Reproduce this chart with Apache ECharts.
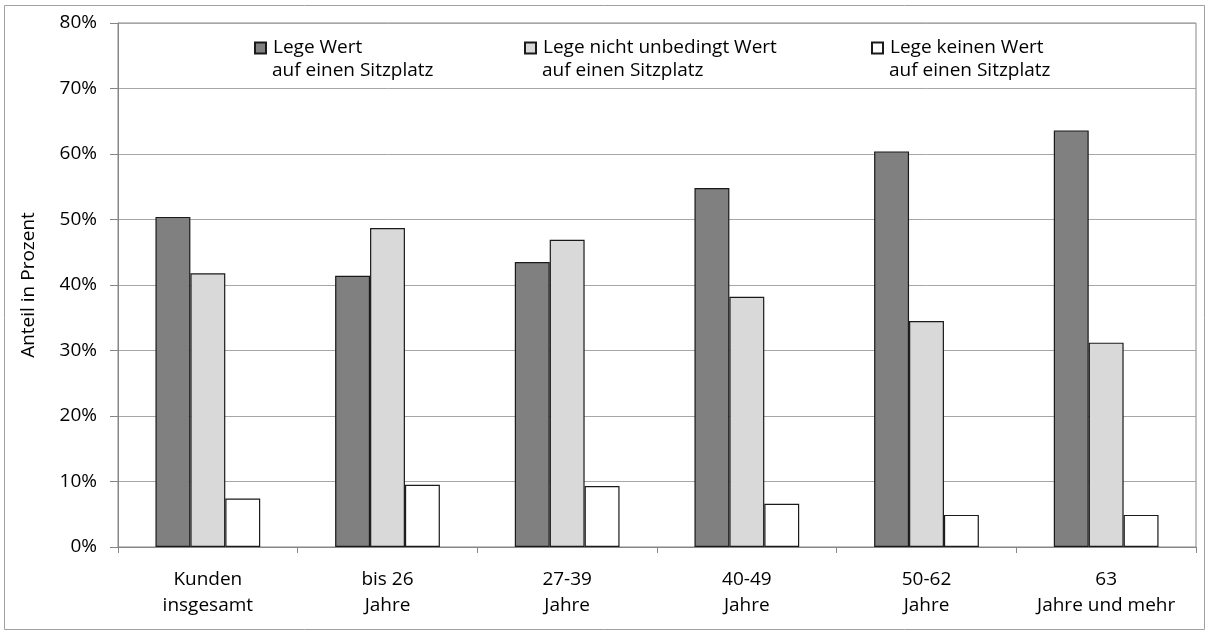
<!DOCTYPE html>
<html>
<head>
<meta charset="utf-8">
<script src="https://cdn.jsdelivr.net/npm/echarts@6/dist/echarts.min.js"></script>
<style>html,body{margin:0;padding:0;background:#fff;}#c{width:1209px;height:635px;}</style>
</head>
<body>
<div id="c"></div>
<script>
const categories = ['Kunden\ninsgesamt', 'bis 26\nJahre', '27-39\nJahre', '40-49\nJahre', '50-62\nJahre', '63\nJahre und mehr'];
const seriesNames = ['Lege Wert', 'Lege nicht unbedingt Wert', 'Lege keinen Wert'];
const legendSecondLine = 'auf einen Sitzplatz';
const wert = [50.4, 41.4, 43.5, 54.8, 60.4, 63.6];
const nichtUnbedingt = [41.8, 48.7, 46.9, 38.2, 34.5, 31.2];
const keinen = [7.4, 9.5, 9.3, 6.6, 4.9, 4.9];
const yTicks = [0, 10, 20, 30, 40, 50, 60, 70, 80];

const FONT = 'Open Sans';
const FS = 19;
const colors = ['#808080', '#d9d9d9', '#ffffff'];
const values = [wert, nichtUnbedingt, keinen];
const legendLeft = [254, 524, 871];

const chart = echarts.init(document.getElementById('c'), null, {renderer: 'canvas'});
const series = seriesNames.map((n, i) => ({
  name: n, type: 'bar', data: values[i],
  barGap: '0%', barCategoryGap: '41.7%',
  itemStyle: {color: colors[i], borderColor: '#1a1a1a', borderWidth: 1.2},
  emphasis: {disabled: true}, animation: false
}));
const legends = seriesNames.map((n, i) => ({
  data: [n], left: legendLeft[i], top: 37,
  itemWidth: 11, itemHeight: 11, itemGap: 0, padding: 0,
  icon: 'rect',
  textStyle: {fontFamily: FONT, fontSize: FS, lineHeight: 22, color: '#000', padding: [0, 0, 0, 2]},
  selectedMode: false
}));
const graphics = [
  {type: 'rect', shape: {x: 4.5, y: 5.5, width: 1200, height: 624}, style: {fill: 'none', stroke: '#a0a0a0', lineWidth: 1}, silent: true}
].concat(legendLeft.map(x => ({
  type: 'text', left: x + 18, top: 59,
  style: {text: legendSecondLine, font: FS + 'px "' + FONT + '"', lineHeight: 24, fill: '#000'}
})));

chart.setOption({
  animation: false,
  backgroundColor: '#fff',
  legend: legends,
  grid: {left: 118, right: 13, top: 23, bottom: 88, containLabel: false, show: true, borderColor: '#868686', borderWidth: 1},
  xAxis: {
    type: 'category', data: categories,
    axisLine: {lineStyle: {color: '#868686'}},
    axisTick: {show: true, length: 6, lineStyle: {color: '#868686'}},
    axisLabel: {fontFamily: FONT, fontSize: FS, color: '#000', margin: 20, lineHeight: 26, interval: 0}
  },
  yAxis: {
    type: 'value', min: 0, max: 80, interval: 10,
    name: 'Anteil in Prozent', nameLocation: 'middle', nameGap: 80, nameRotate: 90,
    nameTextStyle: {fontFamily: FONT, fontSize: FS, color: '#000'},
    axisLine: {show: true, lineStyle: {color: '#868686'}},
    axisTick: {show: true, length: 8, inside: false, lineStyle: {color: '#868686'}},
    axisLabel: {fontFamily: FONT, fontSize: FS, color: '#000', margin: 21, formatter: v => v + '%'},
    splitLine: {lineStyle: {color: '#a6a6a6', width: 1}}
  },
  series: series,
  graphic: graphics
});
</script>
</body>
</html>
